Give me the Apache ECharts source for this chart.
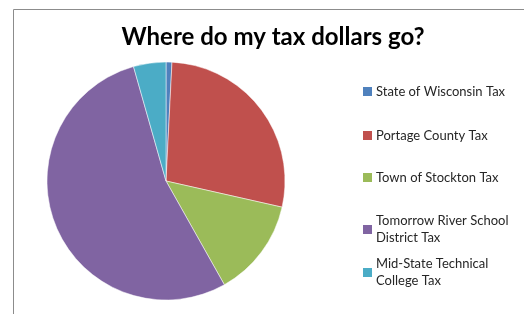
<!DOCTYPE html>
<html>
<head>
<meta charset="utf-8">
<script src="https://cdn.jsdelivr.net/npm/echarts@6/dist/echarts.min.js"></script>
<style>
  html, body { margin: 0; padding: 0; background: #fff; }
  #main { width: 524px; height: 314px; }
</style>
</head>
<body>
<div id="main"></div>
<script>
const categories = [
  'State of Wisconsin Tax',
  'Portage County Tax',
  'Town of Stockton Tax',
  'Tomorrow River School District Tax',
  'Mid-State Technical College Tax'
]
const shares = [0.8, 27.7, 13.3, 53.7, 4.4]
const colors = ['#4F81BD', '#C0504D', '#9BBB59', '#8064A2', '#4BACC6']
// legend label text, wrapped like the original
const legendLabels = {
  'Tomorrow River School District Tax': 'Tomorrow River School\nDistrict Tax',
  'Mid-State Technical College Tax': 'Mid-State Technical\nCollege Tax'
}
const legendTops = [83, 127, 169, 204, 247]

const chart = echarts.init(document.getElementById('main'))

const legends = categories.map((name, i) => {
  const wrapped = !!legendLabels[name]
  return {
    orient: 'vertical',
    left: 363,
    top: legendTops[i],
    padding: 0,
    data: [name],
    icon: 'path://M0,0L10,0L10,10L0,10Z',
    itemWidth: 9,
    itemHeight: 9,
    itemGap: 0,
    itemStyle: { borderWidth: 0 },
    selectedMode: false,
    formatter: (n) => legendLabels[n] || n,
    textStyle: {
      fontFamily: 'Lato',
      fontSize: 13,
      color: '#262626',
      lineHeight: 17,
      padding: wrapped ? [17, 0, 0, -1] : [0, 0, 0, -1]
    }
  }
})

const option = {
  animation: false,
  color: colors,
  title: {
    text: 'Where do my tax dollars go?',
    left: 268,
    textAlign: 'center',
    top: 20,
    textStyle: {
      fontFamily: 'Lato',
      fontWeight: 'bold',
      fontSize: 24,
      color: '#000'
    }
  },
  legend: legends,
  graphic: [
    {
      type: 'polyline',
      shape: { points: [[13.5, 314], [13.5, 9.5], [524, 9.5]] },
      style: { stroke: '#8c8c8c', lineWidth: 1, fill: null },
      silent: true
    }
  ],
  series: [
    {
      type: 'pie',
      center: [166, 181],
      radius: 119,
      startAngle: 90,
      clockwise: true,
      label: { show: false },
      labelLine: { show: false },
      itemStyle: { borderColor: '#fff', borderWidth: 0.5 },
      emphasis: { disabled: true },
      data: categories.map((name, i) => ({ name: name, value: shares[i] }))
    }
  ]
}

chart.setOption(option)
</script>
</body>
</html>
